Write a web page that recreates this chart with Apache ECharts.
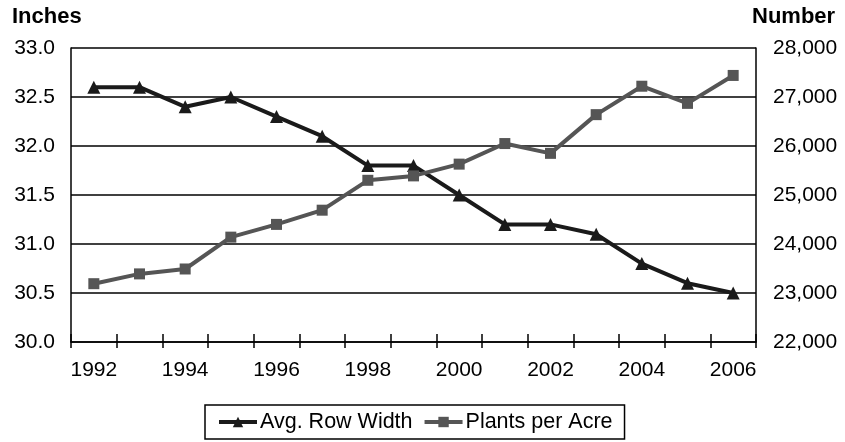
<!DOCTYPE html>
<html>
<head>
<meta charset="utf-8">
<script src="https://cdn.jsdelivr.net/npm/echarts@6/dist/echarts.min.js"></script>
<style>
html,body{margin:0;padding:0;background:#fff;}
#chart{width:845px;height:442px;}
</style>
</head>
<body>
<div id="chart"></div>
<script>
var years = ['1992','1993','1994','1995','1996','1997','1998','1999','2000','2001','2002','2003','2004','2005','2006'];
var rowWidth = [32.6, 32.6, 32.4, 32.5, 32.3, 32.1, 31.8, 31.8, 31.5, 31.2, 31.2, 31.1, 30.8, 30.6, 30.5];
var plantsPerAcre = [23190, 23390, 23490, 24140, 24400, 24690, 25300, 25390, 25630, 26050, 25850, 26640, 27220, 26870, 27440];
var leftTicks = {min: 30, max: 33, interval: 0.5};
var rightTicks = {min: 22000, max: 28000, interval: 1000};

var FONT = '"Liberation Sans", Arial, sans-serif';
var chart = echarts.init(document.getElementById('chart'), null, {renderer: 'canvas'});
var option = {
  animation: false,
  backgroundColor: '#ffffff',
  textStyle: {fontFamily: FONT},
  grid: {left: 71, right: 89, top: 48, bottom: 100, containLabel: false},
  graphic: [
    {type: 'text', left: 12, top: 6, style: {text: 'Inches', font: 'bold 22px ' + FONT, fill: '#000'}},
    {type: 'text', left: 752, top: 6, style: {text: 'Number', font: 'bold 22px ' + FONT, fill: '#000'}}
  ],
  legend: {
    left: 205, top: 405,
    padding: [6, 12, 6, 12],
    borderColor: '#000', borderWidth: 1.5,
    itemWidth: 38, itemHeight: 13, itemGap: 10,
    lineStyle: {width: 4},
    textStyle: {fontFamily: FONT, fontSize: 21.5, color: '#000', padding: [0, 0, 0, -2]},
    data: ['Avg. Row Width', 'Plants per Acre']
  },
  xAxis: [{
    type: 'category', data: years, boundaryGap: true, position: 'bottom',
    axisLine: {lineStyle: {color: '#000', width: 1.5}},
    axisTick: {show: true, interval: 0, length: 6, lineStyle: {color: '#000', width: 1.5}},
    axisLabel: {interval: 1, margin: 18, fontSize: 21, color: '#000', fontFamily: FONT},
    splitLine: {show: false}
  }, {
    type: 'category', data: years, boundaryGap: true, position: 'bottom',
    axisLine: {show: false},
    axisTick: {show: true, inside: true, interval: 0, length: 8, lineStyle: {color: '#000', width: 1.5}},
    axisLabel: {show: false},
    splitLine: {show: false}
  }],
  yAxis: [{
    type: 'value', min: leftTicks.min, max: leftTicks.max, interval: leftTicks.interval, position: 'left',
    axisLine: {show: true, lineStyle: {color: '#000', width: 1.5}},
    axisTick: {show: false},
    axisLabel: {margin: 16, fontSize: 21, color: '#000', fontFamily: FONT, formatter: function(v){return v.toFixed(1);}},
    splitLine: {show: true, lineStyle: {color: '#000', width: 1.5}}
  }, {
    type: 'value', min: rightTicks.min, max: rightTicks.max, interval: rightTicks.interval, position: 'right',
    axisLine: {show: true, lineStyle: {color: '#000', width: 1.5}},
    axisTick: {show: false},
    axisLabel: {margin: 17, fontSize: 21, color: '#000', fontFamily: FONT, formatter: function(v){return v.toLocaleString('en-US');}},
    splitLine: {show: false}
  }],
  series: [{
    name: 'Avg. Row Width', type: 'line', xAxisIndex: 0, yAxisIndex: 0, data: rowWidth,
    symbol: 'triangle', symbolSize: 13,
    lineStyle: {color: '#1a1a1a', width: 4},
    itemStyle: {color: '#1a1a1a'}
  }, {
    name: 'Plants per Acre', type: 'line', xAxisIndex: 0, yAxisIndex: 1, data: plantsPerAcre,
    symbol: 'rect', symbolSize: 11,
    lineStyle: {color: '#555555', width: 4},
    itemStyle: {color: '#555555'}
  }]
};
chart.setOption(option);
</script>
</body>
</html>
